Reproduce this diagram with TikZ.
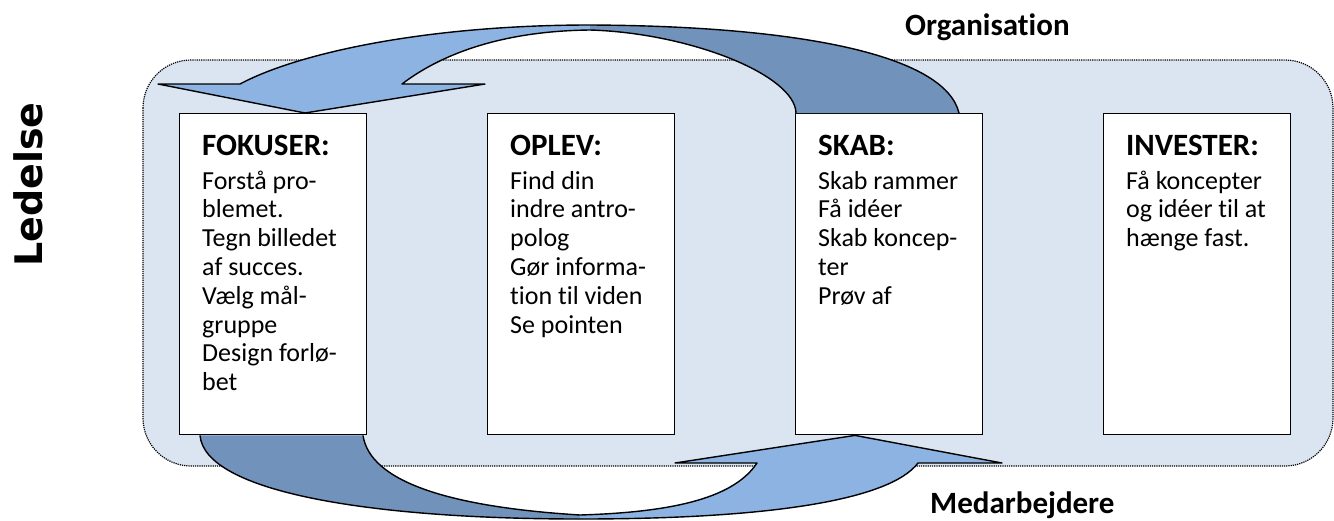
\documentclass[tikz,border=0pt]{standalone}
\usepackage{fontspec}
\setmainfont{Carlito}[Ligatures=CommonOff]
\newfontfamily\ledelsefont{DejaVu Sans}
\usetikzlibrary{calc}

\definecolor{panelblue}{HTML}{DBE5F1}
\definecolor{arrowlight}{HTML}{8DB3E2}
\definecolor{arrowdark}{HTML}{7192BB}
\newcommand{\phasehead}{\fontsize{31}{34}\selectfont\bfseries}

\begin{document}
\begin{tikzpicture}[x=1pt, y=-1pt,
    panel/.style={fill=panelblue, densely dotted, line width=1.2pt, rounded corners=48pt},
    stagebox/.style={draw, line width=1.4pt, fill=white, anchor=north west, inner sep=0pt,
        minimum width=187pt, minimum height=321pt},
    stagetext/.style={anchor=base west, inner sep=0pt, font=\fontsize{26}{28.8}\selectfont},
    arrowline/.style={draw, line width=1.4pt, line join=round},
    sidelabel/.style={anchor=base west, inner sep=0pt, font=\phasehead}]
    \useasboundingbox (0,0) rectangle (1334,520);

    % Background
    \draw[panel] (143,60) rectangle (1333,466);

    % Stages
    \node[stagebox] (fokuser) at (179,113) {};
    \node[stagebox] (oplev) at (487,113) {};
    \node[stagebox] (skab) at (795,113) {};
    \node[stagebox] (invester) at (1103,113) {};

    % Arrow points
    \coordinate (toptip) at ($(fokuser.north west)+(126,0)$);
    \coordinate (topa) at ($(skab.north west)+(1,0)$);
    \coordinate (topb) at ($(skab.north west)+(164,0)$);
    \coordinate (bottip) at ($(skab.south west)+(60,0)$);
    \coordinate (bota) at ($(fokuser.south west)+(21,0)$);
    \coordinate (botb) at ($(fokuser.south west)+(184,0)$);

    % Top arrow (SKAB -> FOKUSER)
    \fill[arrowdark] (590,25) .. controls (800,26) and (945,55) .. (topb) -- (topa)
        .. controls (795,75) and (690,33) .. (590,30) -- cycle;
    \fill[arrowlight] (590,25) .. controls (430,25) and (300,52) .. (240,84) -- (158,84)
        -- (toptip) -- (485,84) -- (402,84) .. controls (440,55) and (500,31) .. (590,30) -- cycle;
    \path[arrowline] (topb) .. controls (945,55) and (800,26) .. (590,25)
        .. controls (430,25) and (300,52) .. (240,84) -- (158,84) -- (toptip) -- (485,84)
        -- (402,84) .. controls (440,55) and (500,31) .. (590,30)
        .. controls (690,33) and (795,75) .. (topa);

    % Bottom arrow (FOKUSER -> SKAB)
    \fill[arrowdark] (bota) .. controls (205,492) and (370,519) .. (580,519) -- (580,515)
        .. controls (450,507) and (370,482) .. (botb) -- cycle;
    \fill[arrowlight] (580,519) .. controls (770,519) and (890,500) .. (918,463) -- (1002,463)
        -- (bottip) -- (675,463) -- (757,463) .. controls (735,496) and (680,512) .. (580,515) -- cycle;
    \path[arrowline] (bota) .. controls (205,492) and (370,519) .. (580,519)
        .. controls (770,519) and (890,500) .. (918,463) -- (1002,463) -- (bottip) -- (675,463)
        -- (757,463) .. controls (735,496) and (680,512) .. (580,515)
        .. controls (450,507) and (370,482) .. (botb);

    % Stage texts
    \node[stagetext] (fokusertxt) at (202,155) {\parbox[t]{170pt}{\raggedright
        {\phasehead FOKUSER:}\\[5.2pt]
        Forstå pro-\\ blemet.\\ Tegn billedet\\ af succes.\\ Vælg mål-\\ gruppe\\ Design forlø-\\ bet}};
    \node[stagetext] (oplevtxt) at (510,155) {\parbox[t]{170pt}{\raggedright
        {\phasehead OPLEV:}\\[5.2pt]
        Find din\\ indre antro-\\ polog\\ Gør informa-\\ tion til viden\\ Se pointen}};
    \node[stagetext] (skabtxt) at (818,155) {\parbox[t]{170pt}{\raggedright
        {\phasehead SKAB:}\\[5.2pt]
        Skab rammer\\ Få idéer\\ Skab koncep-\\ ter\\ Prøv af}};
    \node[stagetext] (investertxt) at (1126,155) {\parbox[t]{170pt}{\raggedright
        {\phasehead INVESTER:}\\[5.2pt]
        Få koncepter\\ og idéer til at\\ hænge fast.}};

    % Labels
    \node[sidelabel] (organisation) at (905,35) {Organisation};
    \node[sidelabel] (medarbejdere) at (930,513) {Medarbejdere};
    \node[anchor=base west, inner sep=0pt, rotate=90, font=\ledelsefont\bfseries\fontsize{38}{40}\selectfont]
        (ledelse) at (42,267) {Ledelse};
\end{tikzpicture}
\end{document}
